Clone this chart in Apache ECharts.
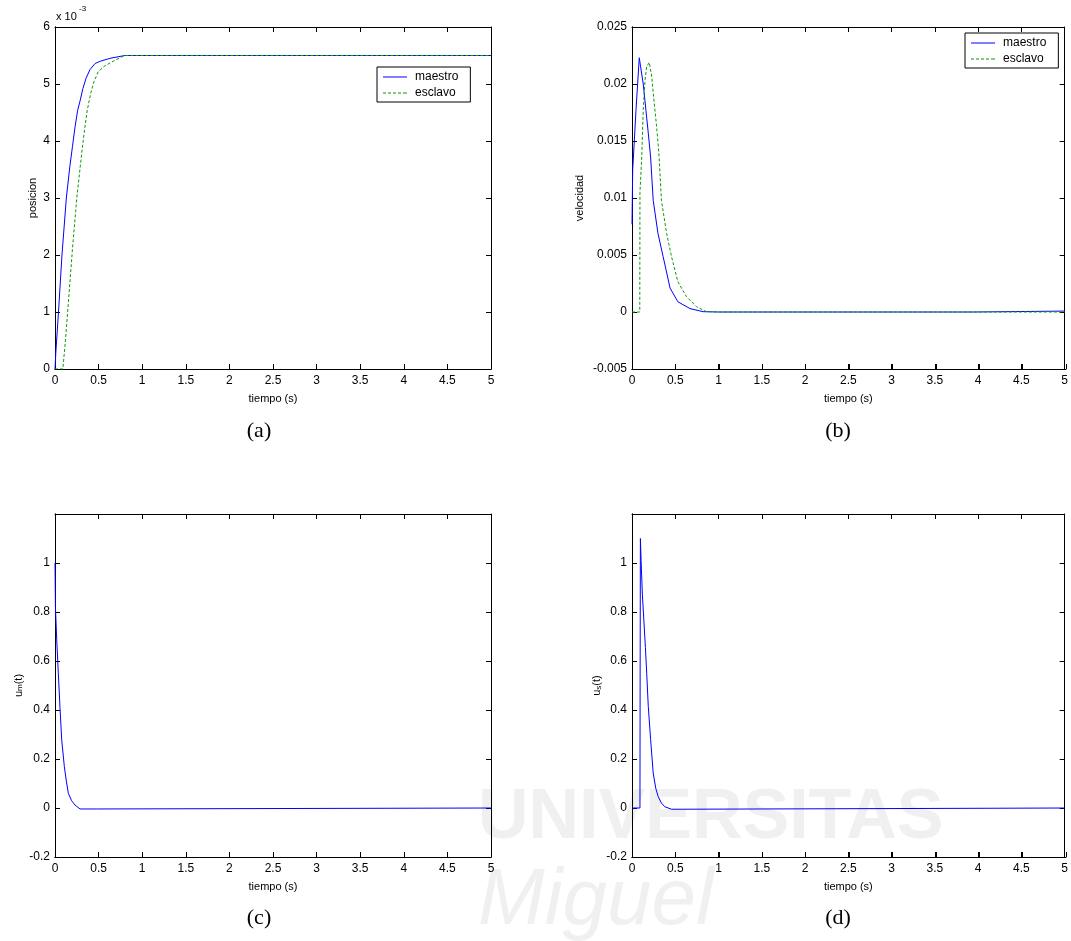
<!DOCTYPE html>
<html><head><meta charset="utf-8">
<script src="https://cdn.jsdelivr.net/npm/echarts@6/dist/echarts.min.js"></script>
<style>html,body{margin:0;padding:0;background:#fff}#c{width:1071px;height:941px}</style>
</head><body><div id="c"></div>
<script>
// ---- data (a) posicion ----
const posMaestroT = [0, 0.01, 0.04, 0.08, 0.13, 0.17, 0.2, 0.23, 0.26, 0.29, 0.32, 0.356, 0.4, 0.46, 0.52, 0.63, 0.8, 5];
const posMaestro  = [0, 0.0003, 0.0010, 0.0020, 0.0030, 0.00355, 0.0039, 0.00425, 0.00454, 0.00472, 0.00492, 0.0051, 0.00525, 0.00536, 0.0054, 0.00545, 0.0055, 0.0055];
const posEsclavoT = [0, 0.09, 0.12, 0.16, 0.2, 0.25, 0.3, 0.333, 0.37, 0.41, 0.447, 0.497, 0.573, 0.669, 0.8, 5];
const posEsclavo  = [0, 0, 0.0005, 0.0013, 0.0021, 0.0030, 0.0037, 0.00413, 0.00454, 0.00484, 0.00504, 0.00522, 0.00532, 0.0054, 0.0055, 0.0055];
// ---- data (b) velocidad ----
const velMaestroT = [0, 0.008, 0.023, 0.046, 0.065, 0.084, 0.1, 0.13, 0.161, 0.188, 0.215, 0.245, 0.30, 0.36, 0.44, 0.53, 0.67, 0.82, 1.0, 3.95, 3.96, 5];
const velMaestro  = [0.0077, 0.0125, 0.0145, 0.0177, 0.0200, 0.0223, 0.0215, 0.0200, 0.0177, 0.0157, 0.0136, 0.0098, 0.0069, 0.00485, 0.0021, 0.0009, 0.0003, 0.00003, 0, 0, 0.00008, 0.00008];
const velEsclavoT = [0, 0.09, 0.092, 0.111, 0.13, 0.15, 0.169, 0.2, 0.227, 0.253, 0.284, 0.31, 0.34, 0.4, 0.457, 0.53, 0.63, 0.745, 0.86, 1.0, 5];
const velEsclavo  = [0, 0, 0.0105, 0.0133, 0.0177, 0.0203, 0.0215, 0.0219, 0.0207, 0.0186, 0.0163, 0.0140, 0.0098, 0.0069, 0.00485, 0.00266, 0.00134, 0.00047, 0.00003, 0, 0];
// ---- data (c) u_m(t) ----
const umT = [0, 0.005, 0.02, 0.038, 0.057, 0.077, 0.107, 0.13, 0.153, 0.19, 0.23, 0.287, 0.48, 0.5, 5];
const um  = [1.0, 0.82, 0.686, 0.55, 0.41, 0.278, 0.169, 0.11, 0.06, 0.03, 0.012, -0.004, -0.004, 0, 0];
// ---- data (d) u_s(t) ----
const usT = [0, 0.092, 0.094, 0.097, 0.105, 0.12, 0.138, 0.155, 0.17, 0.188, 0.215, 0.245, 0.275, 0.303, 0.34, 0.38, 0.457, 0.58, 0.6, 5];
const us  = [0, 0, 0.55, 1.1, 1.01, 0.87, 0.76, 0.655, 0.55, 0.415, 0.28, 0.143, 0.08, 0.046, 0.02, 0.005, -0.005, -0.005, 0, 0];
// ---- labels ----
const xName = 'tiempo (s)';
const yNames = ['posicion', 'velocidad', 'u{sub|m}(t)', 'u{sub|s}(t)'];
const panelLabels = ['(a)', '(b)', '(c)', '(d)'];
const legendNames = ['maestro', 'esclavo'];

const zip = (a, b) => a.map((t, i) => [t, b[i]]);
const FONT = '"Liberation Sans", Arial, sans-serif';
const panels = [
  {left: 55, top: 27, width: 436, height: 342},
  {left: 632, top: 27, width: 434, height: 342},
  {left: 55, top: 514, width: 436, height: 343},
  {left: 632, top: 514, width: 434, height: 343}
];
const yCfg = [
  {min: 0, max: 0.006, interval: 0.001, fmt: v => String(Math.round(v * 1000)), gap: 17},
  {min: -0.005, max: 0.025, interval: 0.005, fmt: v => String(+v.toFixed(3)), gap: 47},
  {min: -0.2, max: 1.2, interval: 0.2, fmt: v => v > 1.1 ? '' : String(+v.toFixed(1)), gap: 31},
  {min: -0.2, max: 1.2, interval: 0.2, fmt: v => v > 1.1 ? '' : String(+v.toFixed(1)), gap: 28}
];
const mkLine = () => ({show: true, onZero: false, lineStyle: {color: '#000', width: 1}});
const mkTick = () => ({show: true, inside: true, length: 5, lineStyle: {color: '#000', width: 1}});
const grids = [], xAxes = [], yAxes = [], mainX = [], mainY = [];
panels.forEach((g, i) => {
  const gi = grids.length;
  grids.push(Object.assign({}, g));
  mainX.push(xAxes.length);
  xAxes.push({type: 'value', gridIndex: gi, min: 0, max: 5, interval: 0.5, position: 'bottom',
    axisLine: mkLine(), axisTick: mkTick(), splitLine: {show: false},
    axisLabel: {color: '#000', fontFamily: FONT, fontSize: 12, margin: 6, formatter: v => String(+v.toFixed(1))},
    name: xName, nameLocation: 'middle', nameGap: 24,
    nameTextStyle: {color: '#000', fontFamily: FONT, fontSize: 11}});
  xAxes.push({type: 'value', gridIndex: gi, min: 0, max: 5, interval: 0.5, position: 'top',
    axisLine: mkLine(), axisTick: mkTick(), splitLine: {show: false}, axisLabel: {show: false}});
  const c = yCfg[i];
  mainY.push(yAxes.length);
  yAxes.push({type: 'value', gridIndex: gi, min: c.min, max: c.max, interval: c.interval, position: 'left',
    axisLine: mkLine(), axisTick: mkTick(), splitLine: {show: false},
    axisLabel: {color: '#000', fontFamily: FONT, fontSize: 12, margin: 5, formatter: c.fmt},
    name: yNames[i], nameLocation: 'middle', nameGap: c.gap, nameRotate: 90,
    nameTextStyle: {color: '#000', fontFamily: FONT, fontSize: 11,
      rich: {sub: {fontFamily: FONT, fontSize: 8, verticalAlign: 'bottom', color: '#000'}}}});
  yAxes.push({type: 'value', gridIndex: gi, min: c.min, max: c.max, interval: c.interval, position: 'right',
    axisLine: mkLine(), axisTick: mkTick(), splitLine: {show: false}, axisLabel: {show: false}});
  // overlay grid on the same rectangle: tick marks for the bottom and left sides
  const oi = grids.length;
  grids.push(Object.assign({}, g));
  xAxes.push({type: 'value', gridIndex: oi, min: 0, max: 5, interval: 0.5, position: 'bottom',
    axisLine: mkLine(), axisTick: mkTick(), splitLine: {show: false}, axisLabel: {show: false}});
  yAxes.push({type: 'value', gridIndex: oi, min: c.min, max: c.max, interval: c.interval, position: 'left',
    axisLine: mkLine(), axisTick: mkTick(), splitLine: {show: false}, axisLabel: {show: false}});
});
const BLUE = '#0000ff', GREEN = '#0a9a0a';
const line = (name, data, pi, color, dashed) => ({
  type: 'line', name, data, xAxisIndex: mainX[pi], yAxisIndex: mainY[pi], symbol: 'none',
  showSymbol: false, animation: false, silent: true,
  lineStyle: {color, width: 1, type: dashed ? [3, 2] : 'solid'}, itemStyle: {color}
});
const series = [
  line('maestro', zip(posMaestroT, posMaestro), 0, BLUE, false),
  line('esclavo', zip(posEsclavoT, posEsclavo), 0, GREEN, true),
  line('maestro', zip(velMaestroT, velMaestro), 1, BLUE, false),
  line('esclavo', zip(velEsclavoT, velEsclavo), 1, GREEN, true),
  line('um', zip(umT, um), 2, BLUE, false),
  line('us', zip(usT, us), 3, BLUE, false)
];
const SOLID_ICON = 'path://M0,0h24v1h-24z';
const DASH_ICON = 'path://M0,0h3v1h-3zM5,0h3v1h-3zM10,0h3v1h-3zM15,0h3v1h-3zM20,0h4v1h-4z';
const legendBase = {
  orient: 'vertical', selectedMode: false,
  data: [{name: legendNames[0], icon: SOLID_ICON}, {name: legendNames[1], icon: DASH_ICON}],
  backgroundColor: '#fff', borderColor: '#000', borderWidth: 1, borderRadius: 0,
  padding: [3, 12, 2, 6], itemWidth: 24, itemHeight: 1, itemGap: 2, symbolKeepAspect: false,
  textStyle: {color: '#000', fontFamily: FONT, fontSize: 12, padding: [0, 0, 0, 3], lineHeight: 14}
};
const legends = [
  Object.assign({}, legendBase, {left: 377, top: 67}),
  Object.assign({}, legendBase, {left: 965, top: 33})
];
const panelX = [259, 838, 259, 838];
const panelY = [431, 431, 918, 918];
const graphic = [
  {type: 'text', left: 478, top: 784, z: -10, silent: true,
    style: {text: 'UNIVERSITAS', font: 'bold 70px ' + FONT, fill: '#f0f0f0'}},
  {type: 'text', left: 478, top: 862, z: -10, silent: true,
    style: {text: 'Miguel', font: 'italic 80px ' + FONT, fill: '#f0f0f0'}},
  {type: 'text', left: 56, top: 11, silent: true,
    style: {text: 'x 10', font: '11px ' + FONT, fill: '#000'}},
  {type: 'text', left: 79, top: 5, silent: true,
    style: {text: '-3', font: '8px ' + FONT, fill: '#000'}}
];
panelLabels.forEach((t, i) => graphic.push({type: 'text', x: panelX[i], y: panelY[i], silent: true,
  style: {text: t, font: '22px "Liberation Serif", "Times New Roman", serif', fill: '#000',
    textAlign: 'center', textVerticalAlign: 'middle'}}));

const chart = echarts.init(document.getElementById('c'), null, {renderer: 'canvas'});
chart.setOption({
  animation: false, backgroundColor: '#fff',
  grid: grids, xAxis: xAxes, yAxis: yAxes, series, legend: legends, graphic
});
</script></body></html>
